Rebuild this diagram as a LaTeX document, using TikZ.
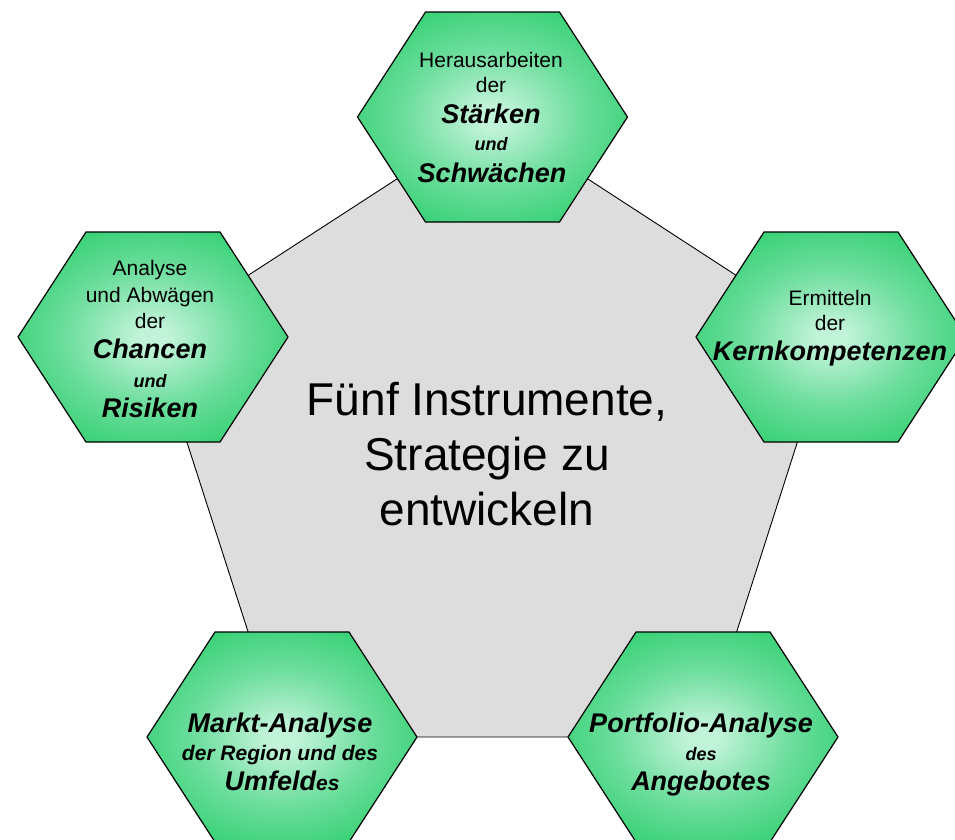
\documentclass[tikz,border=0pt]{standalone}
\usepackage{fontspec}
\setmainfont{Liberation Sans}

\definecolor{slab}{RGB}{221,221,221}
\definecolor{hexrim}{RGB}{34,204,102}
\definecolor{hexmid}{RGB}{110,222,158}
\definecolor{hexcore}{RGB}{192,243,216}

% glow from the middle of each cell out to its green rim
% (the last stop at 50bp is mapped onto the half-width of the cell)
\pgfdeclareradialshading{hexglow}{\pgfpoint{0bp}{0bp}}{%
  color(0bp)=(hexcore); color(3bp)=(hexcore); color(16bp)=(hexmid);
  color(33bp)=(hexrim); color(50bp)=(hexrim)}

\tikzset{
  slabstyle/.style={draw=black, line width=0.9pt, fill=slab, line join=miter},
  hexcell/.style={draw=black, line width=1.2pt, line join=miter, shade, shading=hexglow},
  txt/.style={anchor=base, inner sep=0pt, text=black},
  plainline/.style={txt, font=\fontsize{21}{25}\selectfont},
  boldline/.style={txt, font=\fontsize{27}{32}\selectfont\bfseries\itshape},
  midline/.style={txt, font=\fontsize{21}{25}\selectfont\bfseries\itshape},
  smallline/.style={txt, font=\fontsize{18}{22}\selectfont\bfseries\itshape},
  headline/.style={txt, font=\fontsize{46}{55}\selectfont},
}

\begin{document}
\begin{tikzpicture}[x=1pt, y=-1pt]
  \useasboundingbox (0,0) rectangle (955,839);
  \clip (0,0) rectangle (955,839);

  % centres of the five cells, which are also the corners of the pentagon
  \coordinate (top)   at (492.5,117);
  \coordinate (right) at (831,337);
  \coordinate (left)  at (153,337);
  \coordinate (bl)    at (282,737);
  \coordinate (br)    at (703,737);

  % grey pentagon behind the cells
  \path[slabstyle] (top) -- (right) -- (br) -- (bl) -- (left) -- cycle;

  % the five green hexagons
  \foreach \c in {top,right,left,bl,br}{
    \begin{scope}[shift={(\c)}]
      \path[hexcell] (-135,0) -- (-67,-105) -- (67,-105) -- (135,0)
                     -- (67,105) -- (-67,105) -- cycle;
    \end{scope}
  }

  % centre text
  \node[headline] (h1) at (487,415) {Fünf Instrumente,};
  \node[headline] (h2) at (487,470) {Strategie zu};
  \node[headline] (h3) at (487,525) {entwickeln};

  % top cell
  \node[plainline] (t1) at (491,67)  {Herausarbeiten};
  \node[plainline] (t2) at (491,92)  {der};
  \node[boldline]  (t3) at (491,123) {Stärken};
  \node[smallline] (t4) at (491,150) {und};
  \node[boldline]  (t5) at (492,182) {Schwächen};

  % right cell
  \node[plainline] (r1) at (830,305) {Ermitteln};
  \node[plainline] (r2) at (830,330) {der};
  \node[boldline]  (r3) at (830,360) {Kernkompetenzen};

  % left cell
  \node[plainline] (l1) at (150,275) {Analyse};
  \node[plainline] (l2) at (150,302) {und Abwägen};
  \node[plainline] (l3) at (150,328) {der};
  \node[boldline]  (l4) at (150,358) {Chancen};
  \node[smallline] (l5) at (150,387) {und};
  \node[boldline]  (l6) at (150,417) {Risiken};

  % bottom left cell
  \node[boldline] (b1) at (280,732) {Markt-Analyse};
  \node[midline]  (b2) at (280,760) {der Region und des};
  \node[boldline] (b3) at (282,790) {Umfeld{\fontsize{21}{25}\selectfont es}};

  % bottom right cell
  \node[boldline] (p1) at (701,732) {Portfolio-Analyse};
  \node[smallline] (p2) at (701,760) {des};
  \node[boldline] (p3) at (701,790) {Angebotes};
\end{tikzpicture}
\end{document}
